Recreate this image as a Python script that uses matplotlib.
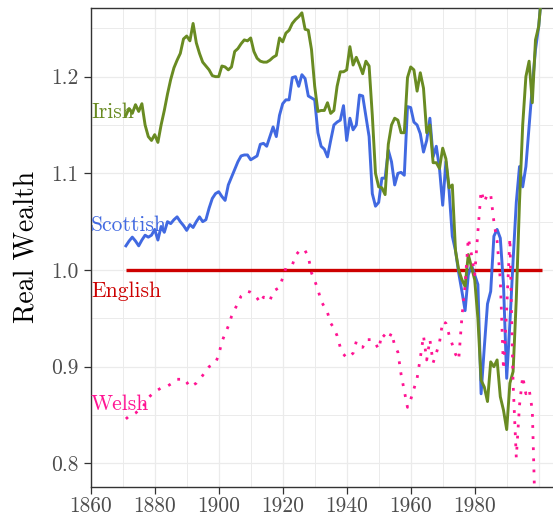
import matplotlib
matplotlib.use("Agg")
import matplotlib.pyplot as plt
import numpy as np

plt.rcParams["font.family"] = ["cmr10", "DejaVu Serif"]
plt.rcParams["axes.formatter.use_mathtext"] = True

years = list(range(1871, 2002))
welsh_years = list(range(1871, 2000))

irish = [
    1.160, 1.167, 1.162, 1.171, 1.164, 1.172, 1.150, 1.138, 1.134, 1.140,
    1.132, 1.150, 1.165, 1.182, 1.197, 1.209, 1.217, 1.224, 1.239, 1.242,
    1.237, 1.255, 1.235, 1.224, 1.215, 1.211, 1.207, 1.201, 1.200, 1.200,
    1.211, 1.210, 1.207, 1.210, 1.226, 1.229, 1.234, 1.238, 1.237, 1.240,
    1.226, 1.219, 1.216, 1.215, 1.215, 1.217, 1.220, 1.222, 1.240, 1.236,
    1.245, 1.248, 1.255, 1.259, 1.262, 1.266, 1.249, 1.248, 1.228, 1.190,
    1.164, 1.165, 1.165, 1.173, 1.162, 1.165, 1.190, 1.205, 1.205, 1.207,
    1.231, 1.212, 1.220, 1.212, 1.203, 1.216, 1.211, 1.160, 1.100, 1.086,
    1.085, 1.078, 1.130, 1.150, 1.157, 1.155, 1.142, 1.142, 1.199, 1.210,
    1.207, 1.185, 1.204, 1.188, 1.142, 1.150, 1.111, 1.111, 1.105, 1.126,
    1.115, 1.085, 1.088, 1.020, 1.000, 0.990, 0.983, 1.016, 1.003, 0.990,
    0.950, 0.886, 0.879, 0.864, 0.905, 0.900, 0.907, 0.869, 0.855, 0.835,
    0.883, 0.895, 0.970, 1.070, 1.150, 1.200, 1.216, 1.173, 1.238, 1.252,
    1.290,
]

scottish = [
    1.025, 1.030, 1.034, 1.030, 1.025, 1.031, 1.036, 1.034, 1.036, 1.042,
    1.031, 1.045, 1.039, 1.050, 1.048, 1.052, 1.055, 1.050, 1.046, 1.041,
    1.047, 1.044, 1.050, 1.055, 1.050, 1.052, 1.064, 1.074, 1.079, 1.081,
    1.076, 1.072, 1.088, 1.096, 1.104, 1.112, 1.118, 1.119, 1.119, 1.114,
    1.116, 1.118, 1.130, 1.131, 1.128, 1.138, 1.148, 1.138, 1.160, 1.172,
    1.176, 1.176, 1.199, 1.200, 1.190, 1.202, 1.198, 1.180, 1.178, 1.176,
    1.142, 1.128, 1.125, 1.117, 1.134, 1.150, 1.153, 1.155, 1.170, 1.134,
    1.157, 1.145, 1.150, 1.181, 1.180, 1.159, 1.138, 1.079, 1.066, 1.070,
    1.095, 1.095, 1.124, 1.112, 1.088, 1.100, 1.101, 1.098, 1.169, 1.168,
    1.153, 1.150, 1.141, 1.122, 1.134, 1.157, 1.117, 1.128, 1.105, 1.067,
    1.112, 1.082, 1.035, 1.020, 0.997, 0.978, 0.958, 0.995, 1.005, 0.995,
    0.985, 0.872, 0.920, 0.965, 0.978, 1.035, 1.042, 1.033, 0.985, 0.888,
    0.945, 1.010, 1.070, 1.107, 1.086, 1.107, 1.148, 1.190, 1.228, 1.252,
    1.290,
]

english = [1.0] * len(years)

welsh = [
    0.846, 0.849, 0.850, 0.852, 0.855, 0.857, 0.862, 0.868, 0.871, 0.874,
    0.876, 0.878, 0.879, 0.880, 0.882, 0.885, 0.887, 0.887, 0.888, 0.884,
    0.879, 0.881, 0.883, 0.887, 0.891, 0.896, 0.900, 0.902, 0.904, 0.912,
    0.926, 0.934, 0.942, 0.952, 0.959, 0.966, 0.973, 0.976, 0.978, 0.977,
    0.975, 0.971, 0.966, 0.972, 0.971, 0.968, 0.978, 0.980, 0.982, 0.992,
    1.002, 1.003, 1.005, 1.015, 1.019, 1.022, 1.020, 1.014, 0.997, 0.989,
    0.980, 0.968, 0.962, 0.956, 0.945, 0.940, 0.932, 0.920, 0.913, 0.909,
    0.911, 0.914, 0.926, 0.921, 0.920, 0.928, 0.928, 0.928, 0.924, 0.918,
    0.934, 0.931, 0.928, 0.935, 0.922, 0.915, 0.892, 0.875, 0.858, 0.866,
    0.877, 0.888, 0.909, 0.932, 0.907, 0.928, 0.904, 0.914, 0.925, 0.947,
    0.945, 0.933, 0.923, 0.913, 0.907, 0.951, 0.985, 1.033, 1.016, 0.995,
    1.040, 1.082, 1.070, 1.079, 1.078, 1.050, 1.030, 0.990, 0.897, 0.960,
    1.033, 0.883, 0.806, 0.860, 0.890, 0.872, 0.877, 0.855, 0.733,
]

label_names = ["Irish", "Scottish", "English", "Welsh"]
label_y = [1.163, 1.046, 0.978, 0.861]
colors = {"Irish": "#698B22", "Scottish": "#4169E1",
          "English": "#CD0000", "Welsh": "#FF1493"}

x_ticks = [1860, 1880, 1900, 1920, 1940, 1960, 1980]
x_ticklabels = ["1860", "1880", "1900", "1920", "1940", "1960", "1980"]
y_ticks = [0.8, 0.9, 1.0, 1.1, 1.2]
y_ticklabels = ["0.8", "0.9", "1.0", "1.1", "1.2"]

fig = plt.figure(figsize=(5.53, 5.25), dpi=100)
ax = fig.add_axes([90.7 / 553, 1 - 487 / 525, 1 - 90.7 / 553, (487 - 7.5) / 525])

ax.set_xlim(1860, 2004.47)
ax.set_ylim(0.7756, 1.2715)

ax.set_xticks(x_ticks)
ax.set_xticklabels(x_ticklabels)
ax.set_yticks(y_ticks)
ax.set_yticklabels(y_ticklabels)
for xv in range(1860, 2010, 10):
    ax.axvline(xv, color="#ebebeb", lw=0.9 if xv % 20 == 0 else 0.7, zorder=0)
for yv in np.arange(0.8, 1.30, 0.05):
    ax.axhline(yv, color="#ebebeb", lw=0.9 if round(yv * 100) % 10 == 0 else 0.7, zorder=0)

ax.plot(years, english, color=colors["English"], lw=2.4, solid_capstyle="butt", zorder=2)
ax.plot(years, scottish, color=colors["Scottish"], lw=2.1, zorder=3)
ax.plot(years, irish, color=colors["Irish"], lw=2.1, zorder=4)
ax.plot(welsh_years, welsh, color=colors["Welsh"], lw=2.0, linestyle=(0, (1, 3)),
        dash_capstyle="butt", zorder=5)

for name, yv in zip(label_names, label_y):
    ax.text(1860.1, yv, name, color=colors[name], fontsize=15.5,
            ha="left", va="center", zorder=6)

for side in ["left", "bottom", "top"]:
    ax.spines[side].set_color("#333333")
    ax.spines[side].set_linewidth(1.0)
ax.spines["right"].set_visible(False)

ax.tick_params(axis="both", which="major", length=5, width=0.9, color="#333333",
               labelcolor="#4d4d4d", labelsize=15.5)
ax.tick_params(axis="x", pad=1.5)
ax.tick_params(axis="y", pad=4)
ax.set_ylabel("Real Wealth", fontsize=20, color="black", labelpad=8)

fig.savefig("out.png", dpi=100)
